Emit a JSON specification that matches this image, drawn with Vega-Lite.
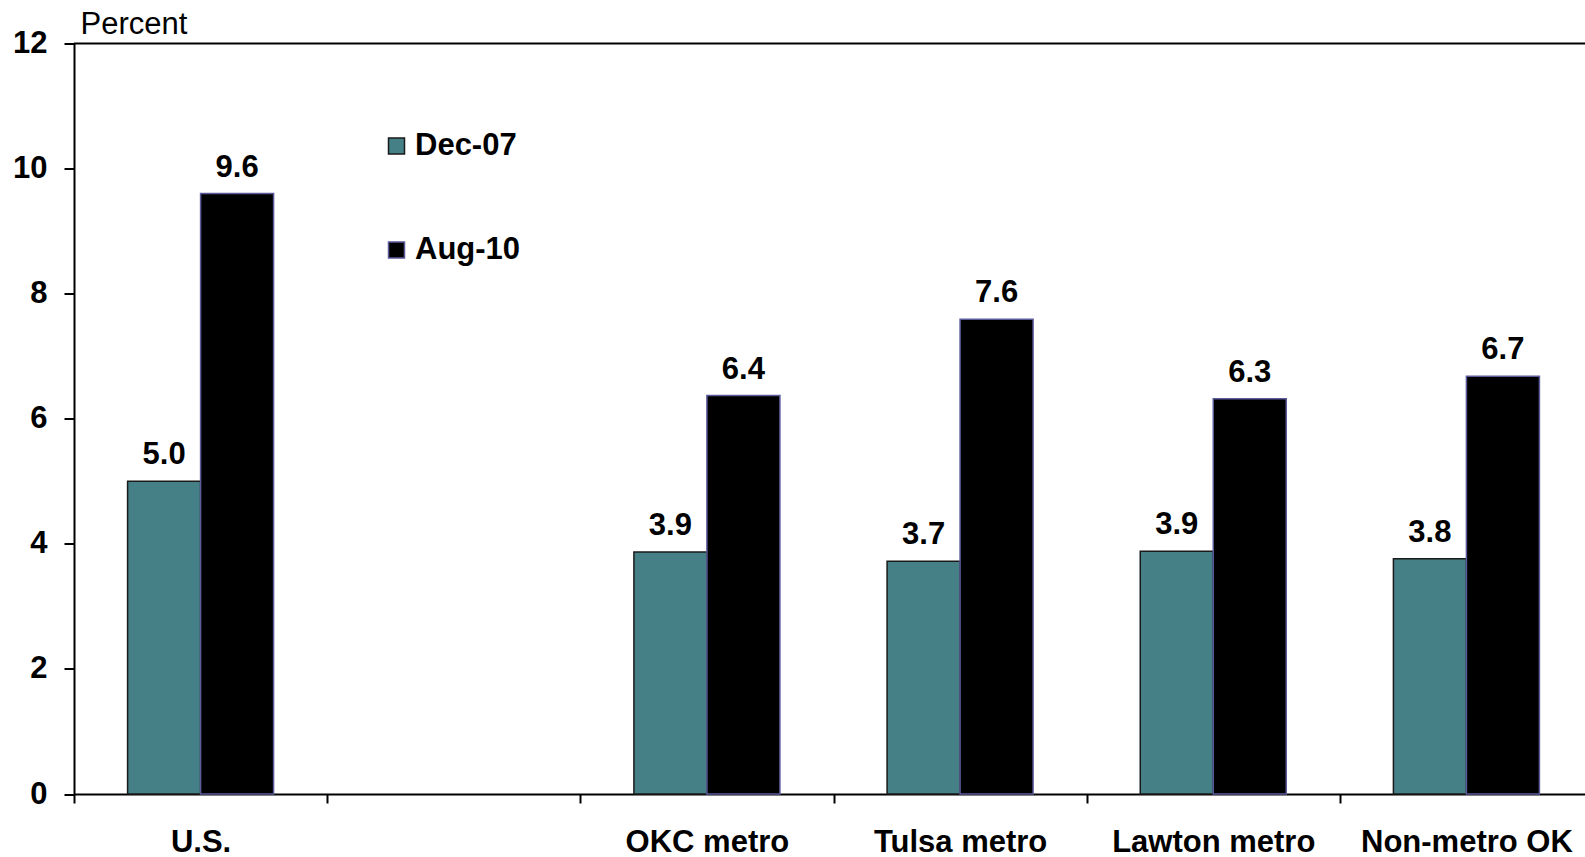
{
  "$schema": "https://vega.github.io/schema/vega-lite/v6.json",
  "autosize": {"type": "none"},
  "padding": {"left": 74, "top": 43.5, "right": 0, "bottom": 63},
  "width": 1511,
  "height": 750.5,
  "background": "white",
  "config": {
    "view": {"stroke": null},
    "font": "Liberation Sans"
  },
  "data": {
    "values": [
      {"region": "U.S.", "series": "Dec-07", "value": 5.0},
      {"region": "U.S.", "series": "Aug-10", "value": 9.6},
      {"region": "OKC metro", "series": "Dec-07", "value": 3.87},
      {"region": "OKC metro", "series": "Aug-10", "value": 6.37},
      {"region": "Tulsa metro", "series": "Dec-07", "value": 3.72},
      {"region": "Tulsa metro", "series": "Aug-10", "value": 7.59},
      {"region": "Lawton metro", "series": "Dec-07", "value": 3.88},
      {"region": "Lawton metro", "series": "Aug-10", "value": 6.32},
      {"region": "Non-metro OK", "series": "Dec-07", "value": 3.76},
      {"region": "Non-metro OK", "series": "Aug-10", "value": 6.68}
    ]
  },
  "encoding": {
    "x": {
      "field": "region",
      "type": "nominal",
      "scale": {
        "domain": ["U.S.", " ", "OKC metro", "Tulsa metro", "Lawton metro", "Non-metro OK"],
        "range": [0, 1519],
        "paddingInner": 0,
        "paddingOuter": 0
      },
      "axis": {
        "title": null,
        "labelAngle": 0,
        "labelLimit": 0,
        "tickBand": "extent",
        "labelFont": "Liberation Sans",
        "labelFontSize": 31,
        "labelFontWeight": "bold",
        "labelColor": "black",
        "labelBaseline": "alphabetic",
        "labelPadding": 48,
        "labelOverlap": false,
        "tickSize": 9,
        "tickColor": "black",
        "tickWidth": 2,
        "domainColor": "black",
        "domainWidth": 2,
        "grid": false
      }
    },
    "xOffset": {
      "field": "series",
      "type": "nominal",
      "sort": ["Dec-07", "Aug-10"],
      "scale": {"paddingInner": 0, "paddingOuter": 0.734}
    },
    "y": {
      "field": "value",
      "type": "quantitative",
      "scale": {"domain": [0, 12], "nice": false, "zero": true},
      "axis": {
        "title": "Percent",
        "titleAngle": 0,
        "titleAlign": "left",
        "titleBaseline": "alphabetic",
        "titleX": 6,
        "titleY": -10,
        "titleFont": "Liberation Sans",
        "titleFontSize": 31,
        "titleFontWeight": "normal",
        "titleColor": "black",
        "values": [0, 2, 4, 6, 8, 10, 12],
        "format": "d",
        "labelFont": "Liberation Sans",
        "labelFontSize": 31,
        "labelFontWeight": "bold",
        "labelColor": "black",
        "labelPadding": 17,
        "tickSize": 10,
        "tickColor": "black",
        "tickWidth": 2,
        "domainColor": "black",
        "domainWidth": 2,
        "grid": false
      }
    }
  },
  "layer": [
    {
      "mark": {"type": "bar", "strokeWidth": 1.5},
      "encoding": {
        "color": {
          "field": "series",
          "type": "nominal",
          "sort": ["Dec-07", "Aug-10"],
          "scale": {"domain": ["Dec-07", "Aug-10"], "range": ["#458087", "#000000"]},
          "legend": {
            "title": null,
            "orient": "none",
            "legendX": 307,
            "legendY": 87,
            "direction": "vertical",
            "symbolType": "square",
            "symbolSize": 256,
            "symbolStrokeWidth": 1.5,
            "symbolOpacity": 1,
            "labelFont": "Liberation Sans",
            "labelFontSize": 31,
            "labelFontWeight": "bold",
            "labelColor": "black",
            "labelOffset": 3,
            "labelLimit": 0,
            "rowPadding": 72,
            "padding": 0
          }
        },
        "stroke": {
          "field": "series",
          "type": "nominal",
          "sort": ["Dec-07", "Aug-10"],
          "scale": {"domain": ["Dec-07", "Aug-10"], "range": ["#1a1a1a", "#5b5b9b"]}
        }
      }
    },
    {
      "mark": {
        "type": "text",
        "baseline": "alphabetic",
        "align": "center",
        "dy": -17,
        "font": "Liberation Sans",
        "fontSize": 31,
        "fontWeight": "bold",
        "color": "black"
      },
      "encoding": {
        "text": {"field": "value", "type": "quantitative", "format": ".1f"}
      }
    },
    {
      "data": {"values": [{"top": 12}]},
      "mark": {"type": "rule", "color": "black", "strokeWidth": 2},
      "encoding": {
        "x": null,
        "xOffset": null,
        "y": {"field": "top", "type": "quantitative"}
      }
    }
  ]
}
